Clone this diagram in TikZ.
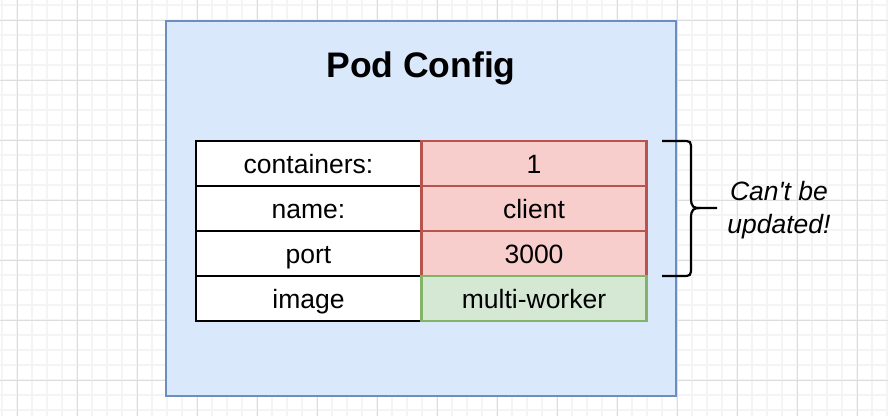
\documentclass[tikz,border=0pt]{standalone}
\usepackage{fontspec}
\setmainfont{Liberation Sans}
\newfontfamily\notefont{Liberation Sans}
\definecolor{gridminor}{HTML}{F4F4F4}
\definecolor{gridmajor}{HTML}{DDDDDD}
\definecolor{podfill}{HTML}{DAE8FC}
\definecolor{podline}{HTML}{6C8EBF}
\definecolor{redfill}{HTML}{F8CECC}
\definecolor{redline}{HTML}{B85450}
\definecolor{greenfill}{HTML}{D5E8D4}
\definecolor{greenline}{HTML}{82B366}
\tikzset{
  podbox/.style={draw=podline, fill=podfill, line width=2.2pt, minimum width=510pt, minimum height=375pt, inner sep=0pt},
  cellbase/.style={minimum width=225pt, minimum height=45pt, inner sep=0pt, line width=2.4pt, text height=19pt, text depth=0pt, font=\fontsize{26.5}{32}\selectfont},
  keycell/.style={cellbase, draw=black, fill=white},
  redcell/.style={cellbase, draw=redline, fill=redfill},
  greencell/.style={cellbase, draw=greenline, fill=greenfill},
  titletext/.style={font=\fontsize{35.5}{40}\selectfont\bfseries, inner sep=0pt, text height=25.4pt, text depth=0pt},
  notetext/.style={font=\notefont\fontsize{26.5}{33}\selectfont\itshape, align=center, inner sep=0pt},
  bracestyle/.style={draw=black, line width=2.2pt}
}
\begin{document}
\begin{tikzpicture}[x=1pt,y=-1pt]
\useasboundingbox (0,0) rectangle (888,416);
\fill[white] (0,0) rectangle (888,416);
% grid
\foreach \i in {0,...,59} {
  \draw[gridminor, line width=1.5pt] ({2+15*\i},0) -- ({2+15*\i},416);
}
\foreach \i in {0,...,28} {
  \draw[gridminor, line width=1.5pt] (0,{5+15*\i}) -- (888,{5+15*\i});
}
\foreach \i in {0,...,14} {
  \draw[gridmajor, line width=1pt] ({17+60*\i},0) -- ({17+60*\i},416);
}
\foreach \i in {0,...,6} {
  \draw[gridmajor, line width=1pt] (0,{20+60*\i}) -- (888,{20+60*\i});
}
% pod box
\node[podbox] (pod) at (421,208.5) {};
\node[titletext] (title) at (421,65) {Pod Config};
% table
\node[keycell] (k1) at (308.5,163.5) {containers:};
\node[keycell] (k2) at (308.5,208.5) {name:};
\node[keycell] (k3) at (308.5,253.5) {port};
\node[keycell] (k4) at (308.5,298.5) {image};
\node[redcell] (v1) at (534,163.5) {1};
\node[redcell] (v2) at (534,208.5) {client};
\node[redcell] (v3) at (534,253.5) {3000};
\node[greencell] (v4) at (534,298.5) {multi-worker};
% brace
\draw[bracestyle] (662,141) -- (682,141)
  .. controls (691,141) .. (691,150) -- (691,198)
  .. controls (691,207.5) and (694,208) .. (700,208) -- (717,208);
\draw[bracestyle] (700,208)
  .. controls (694,208) and (691,209) .. (691,218) -- (691,266)
  .. controls (691,276) .. (682,276) -- (662,276);
\node[notetext] (note) at (779,210) {Can't be\\updated!};
\end{tikzpicture}
\end{document}
